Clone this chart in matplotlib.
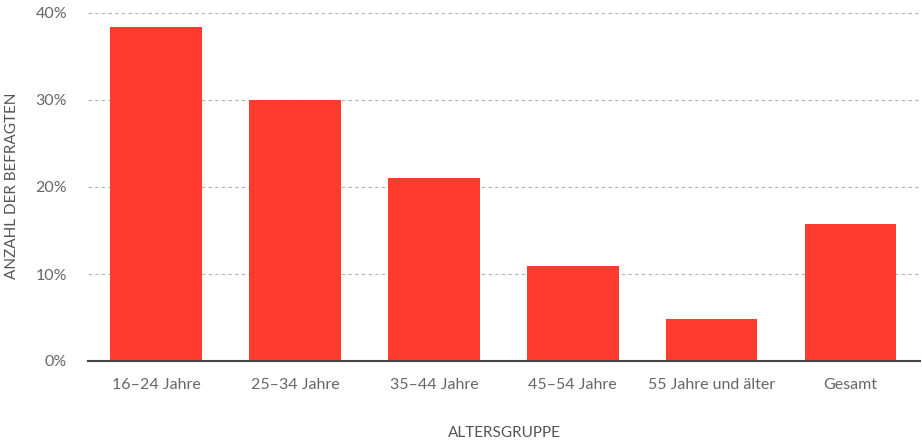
import matplotlib.pyplot as plt
from matplotlib.ticker import PercentFormatter

plt.rcParams['font.family'] = ['Lato', 'DejaVu Sans']

# age groups and share of respondents (%)
groups = ['16–24 Jahre', '25–34 Jahre', '35–44 Jahre', '45–54 Jahre',
          '55 Jahre und älter', 'Gesamt']
share = [38.4, 30.0, 21.0, 10.9, 4.8, 15.7]

fig = plt.figure(figsize=(9.22, 4.42), dpi=100)
ax = fig.add_axes([88 / 922, 1 - 361 / 442, 832 / 922, 348 / 442])

ax.bar(range(len(groups)), share, width=0.66, color='#ff3b2f', zorder=2)

ax.set_xlim(-0.49, len(groups) - 0.5)
ax.set_ylim(0, 40)
ax.set_yticks([0, 10, 20, 30, 40])
ax.yaxis.set_major_formatter(PercentFormatter(decimals=0))
ax.set_xticks(range(len(groups)))
ax.set_xticklabels(groups)

ax.grid(axis='y', linestyle=(0, (3, 3)), color='#b0b0b0', linewidth=0.8, zorder=0)
for s in ['top', 'right', 'left']:
    ax.spines[s].set_visible(False)
ax.spines['bottom'].set_color('#444444')
ax.spines['bottom'].set_linewidth(1.5)
ax.spines['bottom'].set_zorder(3)

ax.tick_params(axis='both', length=0, labelsize=11.5, colors='#666666')
ax.tick_params(axis='y', pad=15)
ax.tick_params(axis='x', pad=12)

fig.text(12 / 922, 1 - 186 / 442, 'ANZAHL DER BEFRAGTEN', rotation=90,
         ha='center', va='center', fontsize=11, color='#555555')
fig.text(504 / 922, 1 - 433 / 442, 'ALTERSGRUPPE', ha='center', va='center',
         fontsize=11, color='#555555')

fig.savefig('out.png', dpi=100)
